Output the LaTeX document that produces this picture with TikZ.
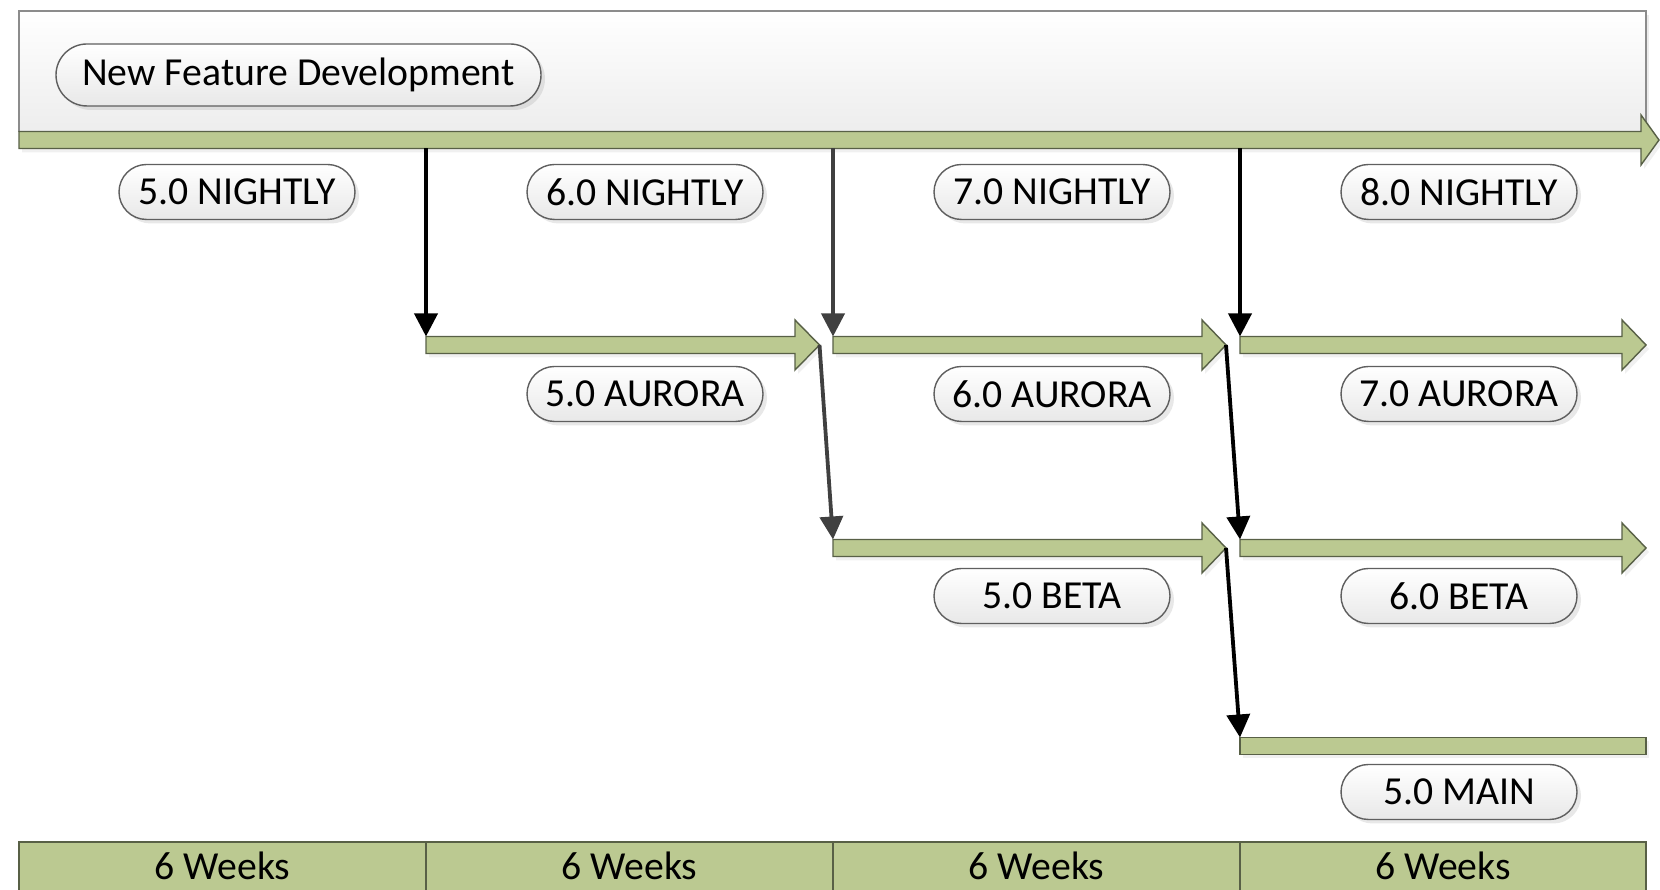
\documentclass[tikz,border=0pt]{standalone}
\usepackage{fontspec}
\setmainfont{Carlito}
\usepackage{xcolor}
\usetikzlibrary{arrows.meta,shadows,positioning}

\definecolor{branchgreen}{RGB}{187,201,145}
\definecolor{branchedge}{RGB}{88,96,70}
\definecolor{pilledge}{RGB}{95,95,95}
\definecolor{flowgray}{RGB}{64,64,64}

\tikzset{
  pill/.style={draw=pilledge, line width=0.4pt, rounded corners=2.75mm,
    top color=white, bottom color=black!9, minimum width=2.36cm,
    minimum height=0.55cm, inner sep=0pt,
    drop shadow={opacity=0.18, shadow xshift=0.04cm, shadow yshift=-0.04cm}},
  bar/.style={draw=branchedge, line width=0.4pt, fill=branchgreen,
    drop shadow={opacity=0.12, shadow xshift=0.03cm, shadow yshift=-0.04cm}},
  header/.style={draw=black!45, line width=0.4pt, top color=white, bottom color=black!7,
    drop shadow={opacity=0.15, shadow xshift=0.03cm, shadow yshift=-0.04cm}},
  flow/.style={-{Triangle[length=0.23cm,width=0.23cm]}, line width=0.038cm},
}

% green branch bar: start x, head base x, tip x, centre y
\newcommand{\branchbar}[4]{%
  \draw[bar] (#1,#4-0.085) -- (#2,#4-0.085) -- (#2,#4-0.25) -- (#3,#4)
    -- (#2,#4+0.25) -- (#2,#4+0.085) -- (#1,#4+0.085) -- cycle;}

\begin{document}
\begin{tikzpicture}[font=\fontsize{11.3}{13.5}\selectfont]
                        \useasboundingbox (0,0) rectangle (16.6,8.9);
                        \clip (0,0) rectangle (16.6,8.9);

                        % Drawing header panel
                        \draw[header] (0.19,7.585) rectangle (16.46,8.79);
                        \node[pill, minimum width=4.85cm, minimum height=0.62cm, rounded corners=3.1mm] (dev) at (2.985,8.15) {New Feature Development};

                        % Drawing nightly bar
                        \branchbar{0.19}{16.41}{16.59}{7.50}

                        % Drawing aurora bars
                        \branchbar{4.26}{7.95}{8.195}{5.45}
                        \branchbar{8.33}{12.02}{12.26}{5.45}
                        \branchbar{12.40}{16.22}{16.46}{5.45}

                        % Drawing beta bars
                        \branchbar{8.33}{12.02}{12.26}{3.42}
                        \branchbar{12.40}{16.22}{16.46}{3.42}

                        % Drawing main bar
                        \draw[bar] (12.40,1.355) rectangle (16.46,1.525);

                        % Marking branch points
                        \coordinate (nb1) at (4.26,7.415);
                        \coordinate (nb2) at (8.33,7.415);
                        \coordinate (nb3) at (12.40,7.415);
                        \coordinate (au1) at (4.26,5.535);
                        \coordinate (au2) at (8.33,5.535);
                        \coordinate (au3) at (12.40,5.535);
                        \coordinate (au1tip) at (8.195,5.45);
                        \coordinate (au2tip) at (12.26,5.45);
                        \coordinate (be1) at (8.33,3.505);
                        \coordinate (be2) at (12.40,3.505);
                        \coordinate (be1tip) at (12.26,3.42);
                        \coordinate (ma1) at (12.40,1.525);

                        % Drawing flows nightly -> aurora
                        \draw[flow] (nb1) -- (au1);
                        \draw[flow, flowgray] (nb2) -- (au2);
                        \draw[flow] (nb3) -- (au3);

                        % Drawing flows aurora -> beta -> main
                        \draw[flow, flowgray] (au1tip) -- (be1);
                        \draw[flow] (au2tip) -- (be2);
                        \draw[flow] (be1tip) -- (ma1);

                        % Marking nightly labels
                        \node[pill] (n5) at (2.37,6.98) {5.0 NIGHTLY};
                        \node[pill] (n6) at (6.45,6.98) {6.0 NIGHTLY};
                        \node[pill] (n7) at (10.52,6.98) {7.0 NIGHTLY};
                        \node[pill] (n8) at (14.59,6.98) {8.0 NIGHTLY};

                        % Marking aurora labels
                        \node[pill] (a5) at (6.45,4.96) {5.0 AURORA};
                        \node[pill] (a6) at (10.52,4.96) {6.0 AURORA};
                        \node[pill] (a7) at (14.59,4.96) {7.0 AURORA};

                        % Marking beta and main labels
                        \node[pill] (b5) at (10.52,2.94) {5.0 BETA};
                        \node[pill] (b6) at (14.59,2.94) {6.0 BETA};
                        \node[pill] (m5) at (14.59,0.98) {5.0 MAIN};

                        % Drawing weeks strip
                        \draw[draw=branchedge, line width=0.5pt, fill=branchgreen] (0.19,-0.1) rectangle (16.46,0.48);
                        \draw[branchedge, line width=0.4pt] (4.26,-0.1) -- (4.26,0.48);
                        \draw[branchedge, line width=0.4pt] (8.33,-0.1) -- (8.33,0.48);
                        \draw[branchedge, line width=0.4pt] (12.40,-0.1) -- (12.40,0.48);
                        \node (w1) at (2.225,0.24) {6 Weeks};
                        \node (w2) at (6.295,0.24) {6 Weeks};
                        \node (w3) at (10.365,0.24) {6 Weeks};
                        \node (w4) at (14.43,0.24) {6 Weeks};
\end{tikzpicture}
\end{document}
